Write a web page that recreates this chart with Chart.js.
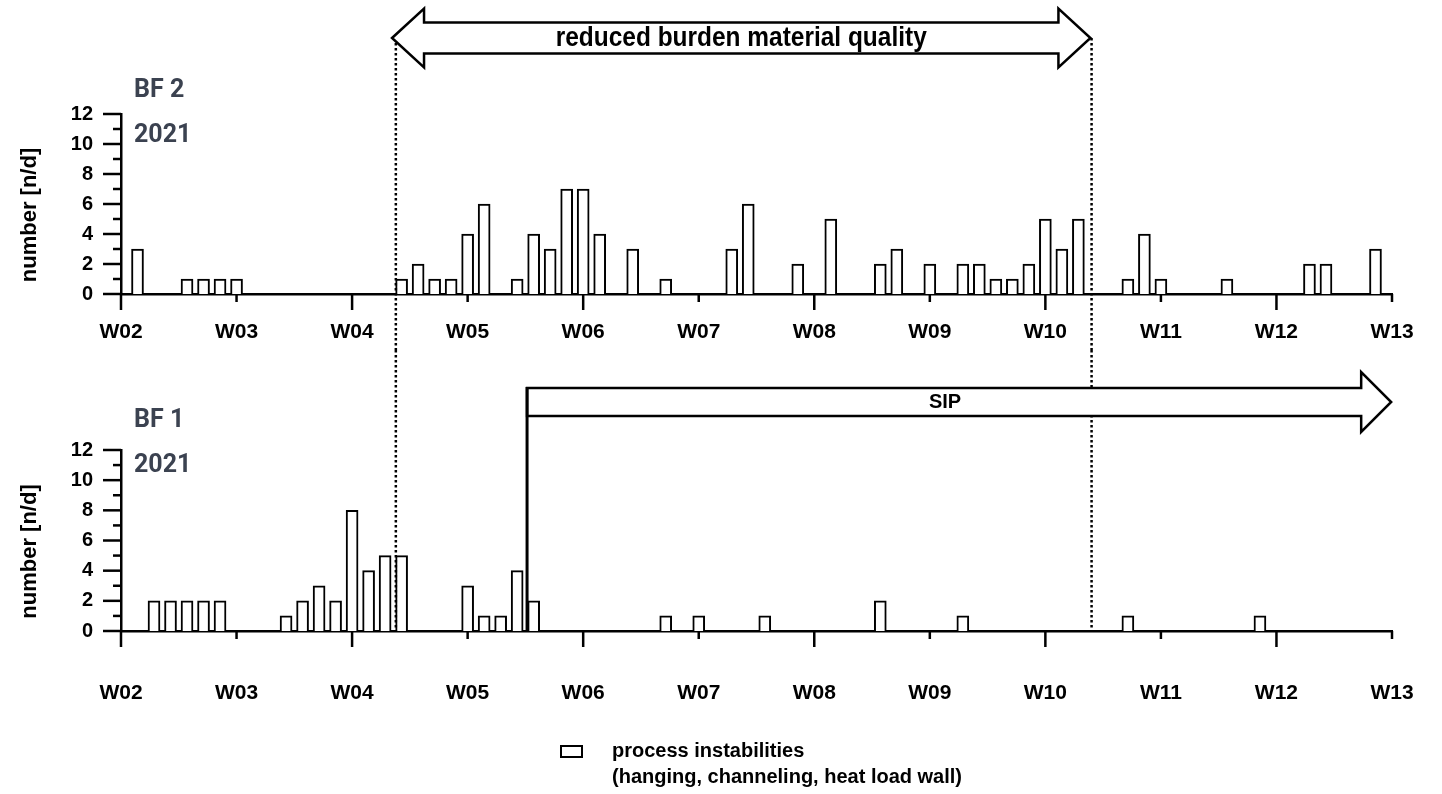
<!DOCTYPE html>
<html>
<head>
<meta charset="utf-8">
<script src="https://cdn.jsdelivr.net/npm/chart.js@4.4.1/dist/chart.umd.min.js"></script>
<style>
  html, body { margin: 0; padding: 0; background: #fff; }
  canvas { position: absolute; left: 0; }
  #bf2 { top: 0; }
  #bf1 { top: 350px; }
</style>
</head>
<body>
<canvas id="bf2" width="1442" height="350"></canvas>
<canvas id="bf1" width="1442" height="444"></canvas>
<script>
// x is measured in days since the start of W02
const weekLabels = ['W02', 'W03', 'W04', 'W05', 'W06', 'W07', 'W08', 'W09', 'W10', 'W11', 'W12', 'W13']

const bf2Days = [1, 4, 5, 6, 7, 17, 18, 19, 20, 21, 22, 24, 25, 26, 27, 28, 29, 31, 33, 37, 38, 41, 43, 46, 47, 49,
    51, 52, 53, 54, 55, 56, 57, 58, 61, 62, 63, 67, 72, 73, 76]
const bf2Counts = [3, 1, 1, 1, 1, 1, 2, 1, 1, 4, 6, 1, 4, 3, 7, 7, 4, 3, 1, 3, 6, 2, 5, 2, 3, 2,
    2, 2, 1, 1, 2, 5, 3, 5, 1, 4, 1, 1, 2, 2, 3]

const bf1Days = [2, 3, 4, 5, 6, 10, 11, 12, 13, 14, 15, 16, 17, 21, 22, 23, 24, 25, 33, 35, 39, 46, 51, 61, 69]
const bf1Counts = [2, 2, 2, 2, 2, 1, 2, 3, 2, 8, 4, 5, 5, 3, 1, 1, 4, 2, 1, 1, 1, 2, 1, 1, 1]

const yMajorTicks = [0, 2, 4, 6, 8, 10, 12]

// periods marked on top of the bars
const burdenPeriod = [16.42, 58.73]
const burdenLines = [16.65, 58.8]
const sipPeriod = [24.6, 76.95]

const BOLD = 'Liberation Sans, Arial, sans-serif'
const TAG = 'Roboto, "Noto Sans", sans-serif'

function points(days, counts) {
    return days.map((d, i) => ({x: d, y: counts[i]}))
}

function dotted(ctx, x, y0, y1) {
    ctx.save()
    ctx.strokeStyle = '#000'
    ctx.lineWidth = 2.5
    ctx.setLineDash([2.5, 2.5])
    ctx.beginPath()
    ctx.moveTo(x, y0)
    ctx.lineTo(x, y1)
    ctx.stroke()
    ctx.restore()
}

// long ticks on even values / even weeks, short ones in between
function axisTicks(chart) {
    const ctx = chart.ctx
    const xs = chart.scales.x, ys = chart.scales.y
    const x0 = xs.getPixelForValue(0), y0 = ys.getPixelForValue(0)
    ctx.save()
    ctx.strokeStyle = '#000'
    ctx.lineWidth = 2.5
    for (let v = 0; v <= 12; v++) {
        const y = ys.getPixelForValue(v)
        const len = yMajorTicks.includes(v) ? 18 : 8
        ctx.beginPath()
        ctx.moveTo(x0 - len, y)
        ctx.lineTo(x0, y)
        ctx.stroke()
    }
    weekLabels.forEach((w, k) => {
        const x = xs.getPixelForValue(k * 7)
        ctx.beginPath()
        ctx.moveTo(x, y0)
        ctx.lineTo(x, y0 + (k % 2 === 0 ? 16 : 8))
        ctx.stroke()
    })
    ctx.restore()
}

function furnaceTag(ctx, name, y) {
    ctx.save()
    ctx.fillStyle = '#3b4250'
    ctx.font = 'bold 25px ' + TAG
    ctx.textBaseline = 'alphabetic'
    ctx.fillText(name, 134, y)
    ctx.fillText('2021', 134, y + 45)
    ctx.restore()
}

const bf2Marks = {
    id: 'bf2Marks',
    afterDraw(chart) {
        const ctx = chart.ctx
        const xs = chart.scales.x
        axisTicks(chart)
        burdenLines.forEach(d => dotted(ctx, xs.getPixelForValue(d), 38, chart.height))

        // double arrow for the burden period
        const xl = xs.getPixelForValue(burdenPeriod[0]), xr = xs.getPixelForValue(burdenPeriod[1])
        const yc = 38, bh = 15.5, hh = 29.5, hl = 32
        ctx.save()
        ctx.beginPath()
        ctx.moveTo(xl, yc)
        ctx.lineTo(xl + hl, yc - hh)
        ctx.lineTo(xl + hl, yc - bh)
        ctx.lineTo(xr - hl, yc - bh)
        ctx.lineTo(xr - hl, yc - hh)
        ctx.lineTo(xr, yc)
        ctx.lineTo(xr - hl, yc + hh)
        ctx.lineTo(xr - hl, yc + bh)
        ctx.lineTo(xl + hl, yc + bh)
        ctx.lineTo(xl + hl, yc + hh)
        ctx.closePath()
        ctx.fillStyle = '#fff'
        ctx.fill()
        ctx.lineWidth = 2.5
        ctx.strokeStyle = '#000'
        ctx.stroke()

        const text = 'reduced burden material quality'
        ctx.font = 'bold 27px "Liberation Sans Narrow", ' + BOLD
        ctx.fillStyle = '#000'
        ctx.textAlign = 'center'
        ctx.textBaseline = 'middle'
        const w = ctx.measureText(text).width
        const sx = Math.min(1, 371 / w)
        ctx.translate((xl + xr) / 2, yc + 1)
        ctx.scale(sx, 1)
        ctx.fillText(text, 0, 0)
        ctx.restore()

        furnaceTag(ctx, 'BF 2', 97)
    }
}

const bf1Marks = {
    id: 'bf1Marks',
    afterDraw(chart) {
        const ctx = chart.ctx
        const xs = chart.scales.x, ys = chart.scales.y
        const yAxis = ys.getPixelForValue(0)
        axisTicks(chart)
        burdenLines.forEach(d => dotted(ctx, xs.getPixelForValue(d), 0, yAxis))

        // SIP arrow, starting from a solid marker line
        const x0 = xs.getPixelForValue(sipPeriod[0]), xt = xs.getPixelForValue(sipPeriod[1])
        const top = 38, bot = 66, yc = 52, xb = xt - 30
        ctx.save()
        ctx.strokeStyle = '#000'
        ctx.fillStyle = '#fff'
        ctx.lineWidth = 2.5
        ctx.beginPath()
        ctx.moveTo(x0, top)
        ctx.lineTo(xb, top)
        ctx.lineTo(xb, top - 16)
        ctx.lineTo(xt, yc)
        ctx.lineTo(xb, bot + 16)
        ctx.lineTo(xb, bot)
        ctx.lineTo(x0, bot)
        ctx.closePath()
        ctx.fill()
        ctx.stroke()
        ctx.lineWidth = 3
        ctx.beginPath()
        ctx.moveTo(x0, top - 1)
        ctx.lineTo(x0, yAxis)
        ctx.stroke()

        ctx.fillStyle = '#000'
        ctx.font = 'bold 20px ' + BOLD
        ctx.textAlign = 'center'
        ctx.textBaseline = 'middle'
        ctx.fillText('SIP', 945, yc)

        // legend
        ctx.lineWidth = 2
        ctx.fillStyle = '#fff'
        ctx.fillRect(561, 396, 21, 11)
        ctx.strokeRect(561, 396, 21, 11)
        ctx.fillStyle = '#000'
        ctx.textAlign = 'left'
        ctx.font = 'bold 20px ' + BOLD
        ctx.fillText('process instabilities', 612, 401)
        ctx.fillText('(hanging, channeling, heat load wall)', 612, 427)
        ctx.restore()

        furnaceTag(ctx, 'BF 1', 77)
    }
}

function yTitle(chart) {
    const ctx = chart.ctx
    const ys = chart.scales.y
    ctx.save()
    ctx.translate(30, (ys.top + ys.bottom) / 2 + 11)
    ctx.rotate(-Math.PI / 2)
    ctx.font = 'bold 22px ' + BOLD
    ctx.fillStyle = '#000'
    ctx.textAlign = 'center'
    ctx.textBaseline = 'middle'
    ctx.fillText('number [n/d]', 0, 0)
    ctx.restore()
}

function makeChart(id, days, counts, opts) {
    const ctx = document.getElementById(id).getContext('2d')
    return new Chart(ctx, {
        type: 'bar',
        data: {
            datasets: [{
                label: 'process instabilities',
                data: points(days, counts),
                backgroundColor: '#fff',
                borderColor: '#000',
                borderWidth: 2,
                barThickness: 12
            }]
        },
        options: {
            responsive: false,
            animation: false,
            layout: {padding: {left: 0, right: 50, top: opts.top, bottom: 0}},
            plugins: {legend: {display: false}, tooltip: {enabled: false}},
            scales: {
                x: {
                    type: 'linear', min: 0, max: 77, offset: false,
                    grid: {display: false, drawTicks: false, offset: false},
                    border: {color: '#000', width: 2.5},
                    ticks: {
                        stepSize: 7, autoSkip: false, maxRotation: 0, padding: opts.labelPad, color: '#000',
                        font: {family: BOLD, size: 21, weight: 'bold'},
                        callback: v => weekLabels[Math.round(v / 7)]
                    },
                    afterFit: s => {
                        s.height = opts.axisHeight
                        s.paddingLeft = 0
                        s.paddingRight = 0
                    }
                },
                y: {
                    min: 0, max: 12,
                    grid: {display: false, drawTicks: false},
                    border: {color: '#000', width: 2.5},
                    ticks: {
                        stepSize: 1, autoSkip: false, padding: 28, color: '#000',
                        font: {family: BOLD, size: 20, weight: 'bold'},
                        callback: v => yMajorTicks.includes(v) ? v : ''
                    },
                    afterFit: s => {
                        s.width = 121
                        s.paddingTop = 0
                        s.paddingBottom = 0
                    }
                }
            }
        },
        plugins: [opts.marks, {id: 'yTitle', afterDraw: yTitle}]
    })
}

makeChart('bf2', bf2Days, bf2Counts, {top: 114, axisHeight: 56, labelPad: 26, marks: bf2Marks})
makeChart('bf1', bf1Days, bf1Counts, {top: 100, axisHeight: 163, labelPad: 50, marks: bf1Marks})
</script>
</body>
</html>
